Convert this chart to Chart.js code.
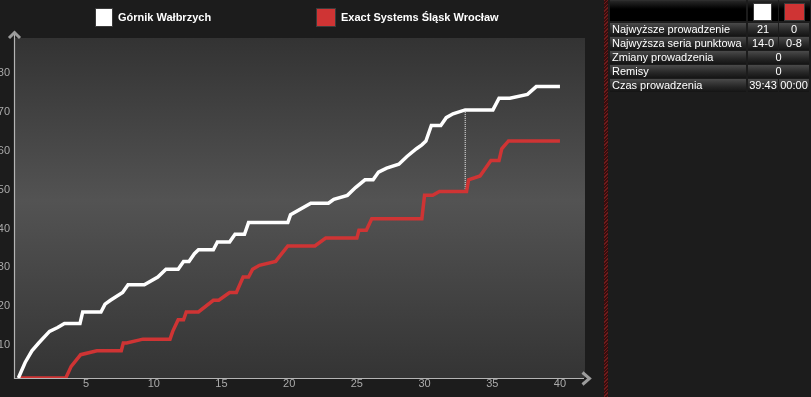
<!DOCTYPE html>
<html>
<head>
<meta charset="utf-8">
<script src="https://cdn.jsdelivr.net/npm/chart.js@4.4.1/dist/chart.umd.min.js"></script>
<style>
html,body{margin:0;padding:0;background:#1c1c1c;width:811px;height:397px;overflow:hidden;font-family:'Liberation Sans',Arial,sans-serif;}
#c{position:absolute;left:0;top:0;}
#sep{position:absolute;left:604px;top:0;width:4px;height:397px;background:repeating-linear-gradient(135deg,#6e1c1c 0 1px,#3a0d0d 1px 2.5px);}
#panel{position:absolute;left:0;top:0;width:811px;height:397px;}
.cell{position:absolute;height:13px;line-height:13px;font-size:11px;color:#fff;background:linear-gradient(#4a4a4a,#262626 60%,#141414);white-space:nowrap;overflow:hidden;}
.lab{padding-left:2px;box-sizing:border-box;}
.val{text-align:center;}
.head{position:absolute;top:0;height:21px;background:linear-gradient(#262626,#000 40%,#000);border-top:1px solid #2e2e2e;box-sizing:border-box;}
.sq{position:absolute;top:3px;height:18px;box-sizing:border-box;border:1px solid #3a3a3a;}
</style>
</head>
<body>
<canvas id="c" width="604" height="397"></canvas>
<div id="sep"></div>
<div id="panel"></div>
<script>
// ---- data ----
const teams = ['Górnik Wałbrzych', 'Exact Systems Śląsk Wrocław'];
const homeMinutes = [0,0.5,1.0,1.5,2.3,2.9,3.4,4.55,4.75,6.1,6.4,6.8,7.7,8.1,9.3,10.3,10.9,11.8,12.2,12.6,13.0,13.3,14.4,14.7,15.6,16.0,16.7,17.0,19.9,20.1,21.6,22.9,23.3,24.3,24.9,25.6,26.2,26.6,27.2,28.1,28.7,29.4,29.8,30.1,30.5,31.2,31.6,32.1,33.0,35.05,35.5,36.3,37.6,38.25,40];
const homeScores  = [0,4,7,9,12,13,14,14,17,17,19,20,22,24,24,26,28,28,30,30,32,33,33,35,35,37,37,40,40,42,45,45,46,47,49,51,51,53,54,55,57,59,60,61,65,65,67,68,69,69,72,72,73,75,75];
const awayMinutes = [0,3.5,3.9,4.6,5.8,7.6,7.75,8.0,9.2,11.2,11.4,11.8,12.2,12.4,13.3,14.4,14.8,15.6,16.1,16.6,17.0,17.3,17.8,19.0,19.9,21.9,22.7,25.0,25.15,25.7,26.1,29.8,30.0,30.6,31.1,33.1,33.25,34.1,34.9,35.5,35.7,36.2,40];
const awayScores  = [0,0,3,6,7,7,9,9,10,10,12,15,15,17,17,20,20,22,22,26,26,28,29,30,34,34,36,36,38,38,41,41,47,47,48,48,51,52,56,56,59,61,61];
const maxLeadMarker = [33, 69, 48]; // minute, home score, away score
const xTickValues = [5,10,15,20,25,30,35,40];
const yTickValues = [10,20,30,40,50,60,70,80];
const statLabels = ['Najwyższe prowadzenie','Najwyższa seria punktowa','Zmiany prowadzenia','Remisy','Czas prowadzenia'];
const statHome = ['21','14-0','0','0','39:43'];
const statAway = ['0','0-8',null,null,'00:00'];

// ---- styles ----
const homeColor = '#ffffff';
const awayColor = '#cf3434';
const tickColor = '#aaaaaa';
const FONT = "'Liberation Sans', Arial, sans-serif";
Chart.defaults.font.family = FONT;

const bgPlugin = {
  id:'bg',
  beforeDraw(chart){
    const {ctx, chartArea:a} = chart;
    const g = ctx.createLinearGradient(0, a.top, 0, a.bottom);
    g.addColorStop(0, '#333333');
    g.addColorStop(0.48, '#535353');
    g.addColorStop(1, '#343434');
    ctx.save();
    ctx.fillStyle = g;
    ctx.fillRect(a.left, a.top, a.right - a.left, a.bottom - a.top);
    ctx.restore();
  },
  beforeDatasetsDraw(chart){
    const {ctx, chartArea:a} = chart;
    ctx.save();
    ctx.strokeStyle = '#b4b4b4';
    ctx.lineWidth = 1.2;
    ctx.beginPath();
    ctx.moveTo(a.left - 0.5, 34);
    ctx.lineTo(a.left - 0.5, a.bottom + 0.5);
    ctx.lineTo(a.right - 1, a.bottom + 0.5);
    ctx.stroke();
    ctx.strokeStyle = '#9c9c9c';
    ctx.lineWidth = 3;
    ctx.lineJoin = 'miter';
    ctx.beginPath();
    ctx.moveTo(a.left - 6, 38);
    ctx.lineTo(a.left - 0.5, 32.5);
    ctx.lineTo(a.left + 5, 38);
    ctx.stroke();
    ctx.beginPath();
    ctx.moveTo(a.right - 2.5, 372.5);
    ctx.lineTo(a.right + 4.5, 378.5);
    ctx.lineTo(a.right - 2.5, 384.5);
    ctx.stroke();
    ctx.restore();
  },
  afterDraw(chart){
    const ctx = chart.ctx;
    const boxes = [[95, 8], [316, 8]];
    const widths = [18, 20];
    ctx.save();
    ctx.font = 'bold 11px ' + FONT;
    ctx.textBaseline = 'middle';
    teams.forEach((t, i) => {
      const ds = chart.data.datasets[i];
      ctx.fillStyle = ds.borderColor;
      ctx.fillRect(boxes[i][0], boxes[i][1], widths[i], 19);
      ctx.strokeStyle = '#3c3c3c';
      ctx.lineWidth = 1;
      ctx.strokeRect(boxes[i][0] + 0.5, boxes[i][1] + 0.5, widths[i] - 1, 18);
      ctx.fillStyle = '#ffffff';
      ctx.fillText(ds.label, boxes[i][0] + widths[i] + 5, 18);
    });
    ctx.restore();
  }
};

const pts = (xs, ys) => xs.map((x, i) => ({x, y: ys[i]}));

new Chart(document.getElementById('c'), {
  type: 'line',
  data: {
    datasets: [
      {label: teams[0], data: pts(homeMinutes, homeScores), borderColor: homeColor, borderWidth: 3.5, pointRadius: 0, tension: 0},
      {label: teams[1], data: pts(awayMinutes, awayScores), borderColor: awayColor, borderWidth: 3.5, pointRadius: 0, tension: 0},
      {label: 'lead', data: [{x: maxLeadMarker[0], y: maxLeadMarker[1]}, {x: maxLeadMarker[0], y: maxLeadMarker[2]}], borderColor: '#ffffff', borderWidth: 1, borderDash: [1, 1], pointRadius: 0}
    ]
  },
  options: {
    responsive: false,
    animation: false,
    events: [],
    layout: {padding: {left: 0, right: 19, top: 38, bottom: 0}},
    plugins: {legend: {display: false}, tooltip: {enabled: false}},
    scales: {
      x: {
        type: 'linear', min: -0.25, max: 41.85,
        grid: {display: false, drawTicks: false},
        border: {display: false},
        afterBuildTicks: s => { s.ticks = xTickValues.map(v => ({value: v})); },
        afterFit: s => { s.height = 19; },
        ticks: {color: tickColor, font: {size: 11}, padding: -1, maxRotation: 0, autoSkip: false}
      },
      y: {
        min: 0, max: 87.5,
        grid: {display: false, drawTicks: false},
        border: {display: false},
        afterBuildTicks: s => { s.ticks = yTickValues.map(v => ({value: v})); },
        afterFit: s => { s.width = 15; },
        ticks: {color: tickColor, font: {size: 11}, padding: 5, labelOffset: 6, autoSkip: false}
      }
    }
  },
  plugins: [bgPlugin]
});

// ---- stats panel ----
const panel = document.getElementById('panel');
function add(cls, x, y, w, text, style) {
  const d = document.createElement('div');
  d.className = cls;
  d.style.left = x + 'px'; d.style.top = y + 'px'; d.style.width = w + 'px';
  if (style) Object.assign(d.style, style);
  if (text !== undefined) d.textContent = text;
  panel.appendChild(d);
  return d;
}
add('head', 610, 0, 136);
add('head', 748, 0, 30);
add('head', 779, 0, 31);
add('sq', 753, 3, 19, undefined, {background: homeColor});
add('sq', 784, 3, 21, undefined, {background: awayColor});
statLabels.forEach((lab, i) => {
  const y = 23 + i * 14;
  add('cell lab', 610, y, 136, lab);
  if (statAway[i] === null) {
    add('cell val', 748, y, 61, statHome[i]);
  } else {
    add('cell val', 748, y, 30, statHome[i]);
    add('cell val', 779, y, 30, statAway[i]);
  }
});
</script>
</body>
</html>
